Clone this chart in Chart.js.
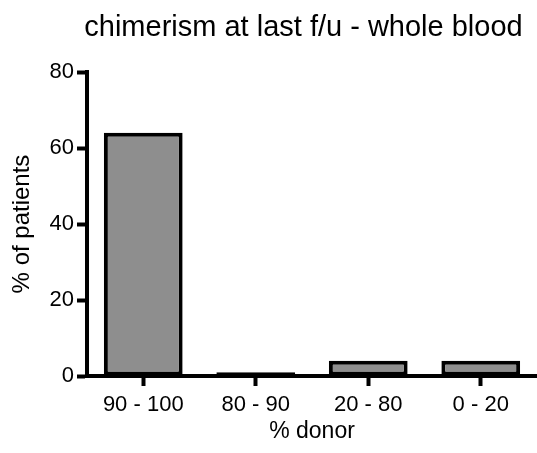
<!DOCTYPE html>
<html>
<head>
<meta charset="utf-8">
<script src="https://cdn.jsdelivr.net/npm/chart.js@4/dist/chart.umd.min.js"></script>
<style>
  html, body { margin: 0; padding: 0; background: #fff; }
  #wrap { width: 537px; height: 453px; position: relative; }
</style>
</head>
<body>
<div id="wrap"><canvas id="c" width="537" height="453"></canvas></div>
<script>
const chartTitle = "chimerism at last f/u - whole blood";
const categories = ["90 - 100", "80 - 90", "20 - 80", "0 - 20"];
const percentPatients = [64, 1, 4, 4];
const yTicks = [0, 20, 40, 60, 80];
const xAxisTitle = "% donor";
const yAxisTitle = "% of patients";

const FONT = "'Liberation Sans', Arial, Helvetica, sans-serif";

const titlePlugin = {
  id: 'customTitle',
  afterDraw(chart) {
    const ctx = chart.ctx;
    ctx.save();
    ctx.font = "29px " + FONT;
    ctx.fillStyle = "#000";
    ctx.textAlign = "center";
    ctx.textBaseline = "alphabetic";
    ctx.fillText(chartTitle, 303.5, 36);
    ctx.restore();
  }
};

new Chart(document.getElementById('c'), {
  type: 'bar',
  data: {
    labels: categories,
    datasets: [{
      data: percentPatients,
      backgroundColor: '#8e8e8e',
      borderColor: '#000',
      borderWidth: 4,
      borderSkipped: false,
      barPercentage: 0.70,
      categoryPercentage: 1.0
    }]
  },
  options: {
    responsive: false,
    animation: false,
    devicePixelRatio: 1,
    layout: { padding: { top: 72, left: 0, right: 0, bottom: 0 } },
    plugins: {
      legend: { display: false },
      tooltip: { enabled: false },
      title: { display: false }
    },
    scales: {
      x: {
        offset: true,
        grid: {
          offset: false,
          drawOnChartArea: false,
          drawTicks: true,
          tickLength: 10,
          tickWidth: 4,
          tickColor: '#000'
        },
        border: { display: true, color: '#000', width: 4 },
        ticks: {
          color: '#000',
          font: { family: FONT, size: 22 },
          padding: 6,
          maxRotation: 0
        },
        title: {
          display: true,
          text: xAxisTitle,
          color: '#000',
          font: { family: FONT, size: 23 },
          padding: { top: 0, bottom: 8 }
        },
        afterFit(scale) { scale.height = 77; }
      },
      y: {
        min: 0,
        max: 80,
        afterBuildTicks(scale) { scale.ticks = yTicks.map(v => ({ value: v })); },
        grid: {
          drawOnChartArea: false,
          drawTicks: true,
          tickLength: 10,
          tickWidth: 4,
          tickColor: '#000'
        },
        border: { display: true, color: '#000', width: 4 },
        ticks: {
          color: '#000',
          font: { family: FONT, size: 22 },
          padding: 3
        },
        title: {
          display: true,
          text: yAxisTitle,
          color: '#000',
          font: { family: FONT, size: 24 },
          padding: { top: 8, bottom: 0 }
        },
        afterFit(scale) { scale.width = 87; }
      }
    }
  },
  plugins: [titlePlugin]
});
</script>
</body>
</html>
